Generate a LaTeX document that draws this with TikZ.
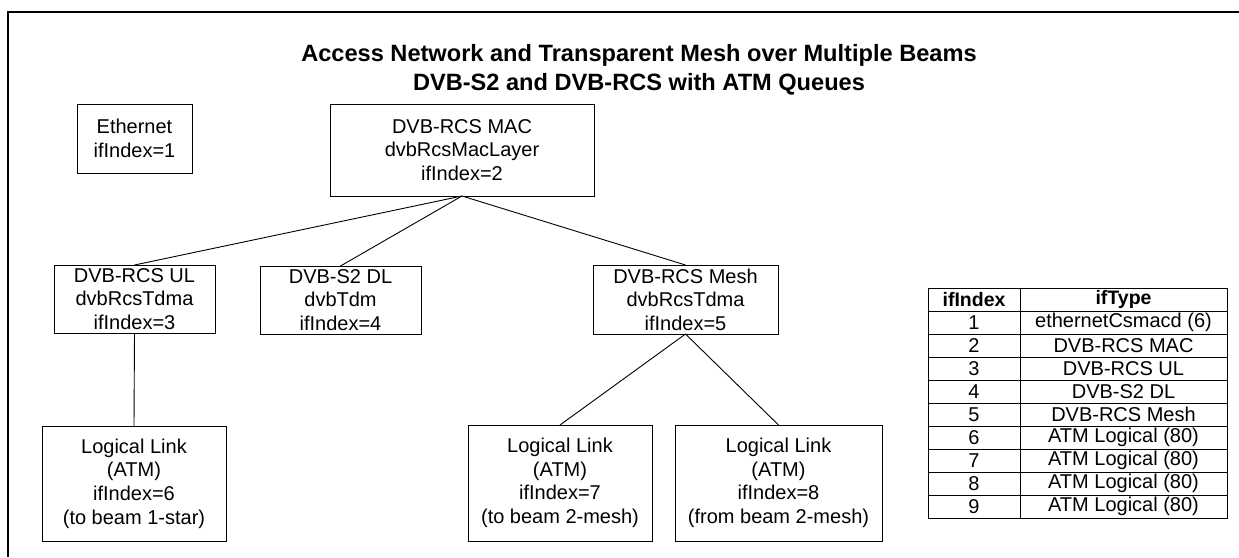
\documentclass[tikz,border=0pt]{standalone}
\usepackage{fontspec}
\setmainfont{Liberation Sans}
\begin{document}
\begin{tikzpicture}[x=1pt,y=-1pt,
  every node/.style={inner sep=0pt,outer sep=0pt},
  ifbox/.style={draw,line width=0.9pt,rectangle,align=center,
    font=\fontsize{20}{23.6}\selectfont},
  link/.style={line width=0.9pt},
  frameline/.style={line width=1.2pt},
  celltext/.style={font=\fontsize{20}{23}\selectfont,anchor=center},
  headtext/.style={font=\fontsize{19.5}{23}\selectfont\bfseries,anchor=center},
  grid/.style={line width=0.9pt}]
\useasboundingbox (0,0) rectangle (1239,557);

% outer frame (open to the right and bottom)
\draw[frameline] (8,557) -- (8,12) -- (1239,12);

% title
\node[align=center,font=\fontsize{23.6}{29}\selectfont\bfseries] (title) at (639,70)
  {Access Network and Transparent Mesh over Multiple Beams\\DVB-S2 and DVB-RCS with ATM Queues};

% interface boxes
\node[ifbox,minimum width=115pt,minimum height=69pt] (eth) at (134.5,138.5) {Ethernet\\ifIndex=1};
\node[ifbox,minimum width=264pt,minimum height=92pt] (mac) at (462,150) {DVB-RCS MAC\\dvbRcsMacLayer\\ifIndex=2};
\node[ifbox,minimum width=161pt,minimum height=68pt] (ul) at (134.5,299) {DVB-RCS UL\\dvbRcsTdma\\ifIndex=3};
\node[ifbox,minimum width=161pt,minimum height=68pt] (dl) at (340.5,300) {DVB-S2 DL\\dvbTdm\\ifIndex=4};
\node[ifbox,minimum width=185pt,minimum height=69pt] (mesh) at (685.5,299.5) {DVB-RCS Mesh\\dvbRcsTdma\\ifIndex=5};
\node[ifbox,minimum width=184pt,minimum height=115pt] (ll6) at (134,483.5) {Logical Link\\(ATM)\\ifIndex=6\\(to beam 1-star)};
\node[ifbox,minimum width=184pt,minimum height=116pt] (ll7) at (560,483) {Logical Link\\(ATM)\\ifIndex=7\\(to beam 2-mesh)};
\node[ifbox,minimum width=207pt,minimum height=116pt] (ll8) at (778.5,483) {Logical Link\\(ATM)\\ifIndex=8\\(from beam 2-mesh)};

% stacking connectors
\draw[link] (mac.south) -- (ul.north);
\draw[link] (mac.south) -- (dl.north);
\draw[link] (mac.south) -- (mesh.north);
\draw[link] (ul.south) -- (ll6.north);
\draw[link] (mesh.south) -- (ll7.north);
\draw[link] (mesh.south) -- (ll8.north);

% ifIndex / ifType table
\draw[grid] (928,288) rectangle (1227,518);
\draw[grid] (1020,288) -- (1020,518);
\foreach \r in {1,...,9} {
  \draw[grid] (928,288+23*\r) -- (1227,288+23*\r);
}
\node[headtext] (hidx) at (974,299.5) {ifIndex};
\node[headtext] (htype) at (1123.5,299.5) {ifType};
\foreach \i/\t in {1/ethernetCsmacd (6),2/DVB-RCS MAC,3/DVB-RCS UL,4/DVB-S2 DL,
    5/DVB-RCS Mesh,6/ATM Logical (80),7/ATM Logical (80),8/ATM Logical (80),9/ATM Logical (80)} {
  \node[celltext] (idx\i) at (974,299.5+23*\i) {\i};
  \node[celltext] (type\i) at (1123.5,299.5+23*\i) {\t};
}
\end{tikzpicture}
\end{document}
